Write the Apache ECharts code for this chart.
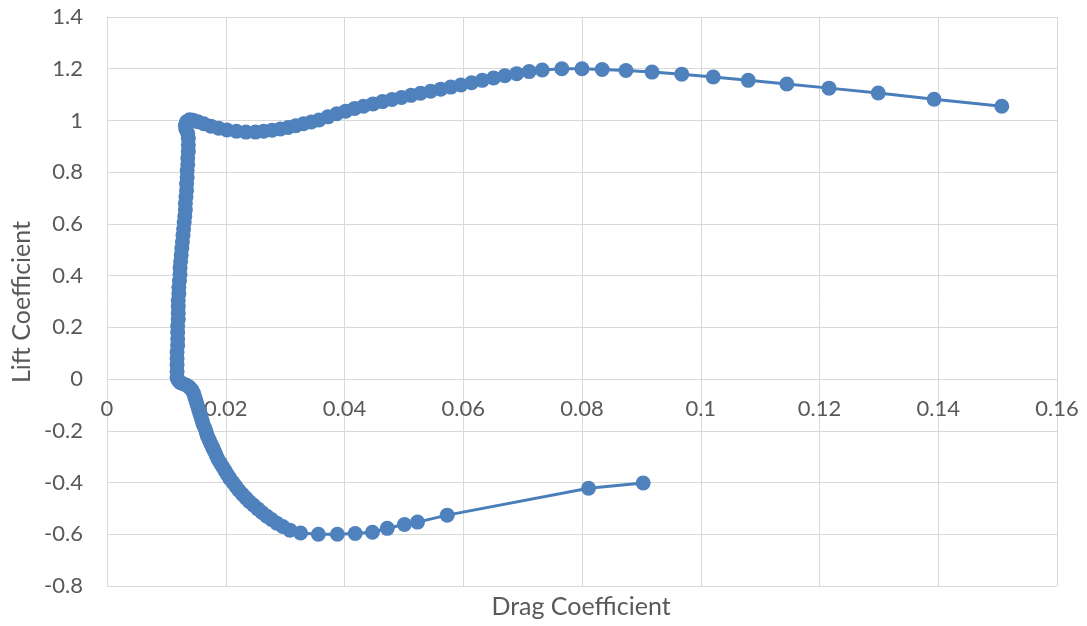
<!DOCTYPE html>
<html>
<head>
<meta charset="utf-8">
<script src="https://cdn.jsdelivr.net/npm/echarts@6/dist/echarts.min.js"></script>
<style>html,body{margin:0;padding:0;background:#fff;}#c{width:1087px;height:626px;}</style>
</head>
<body>
<div id="c"></div>
<script>
const xTickMin = 0, xTickMax = 0.16, xTickStep = 0.02;
const yTickMin = -0.8, yTickMax = 1.4, yTickStep = 0.2;
const xAxisTitle = "Drag Coefficient";
const yAxisTitle = "Lift Coefficient";

const dragCoefficient = [
  0.0903,0.0811,0.0573,0.0523,0.0501,0.0472,0.0447,0.0418,0.0388,0.0356,0.0326,
  0.0308,0.0296,0.0286,0.0277,0.0269,0.0261,0.0254,0.0247,0.0240,0.0234,0.0228,0.0222,0.0217,0.0212,0.0207,0.0203,0.0199,0.0195,0.0191,0.0187,0.0184,0.0181,0.0178,0.0175,0.0172,0.0169,0.0167,0.0165,0.0162,0.0160,0.0158,0.0156,0.0154,0.0152,0.0150,0.0148,0.0146,0.0143,0.0139,0.0134,0.0128,0.0123,0.0120,
  0.0118,0.0118,0.0118,0.0118,0.0118,0.0119,0.0119,0.0119,0.0119,0.0120,0.0120,0.0120,0.0120,0.0121,0.0121,0.0122,0.0123,0.0123,0.0124,0.0125,0.0126,0.0127,0.0128,0.0129,0.0130,0.0131,0.0132,0.0132,0.0133,0.0134,0.0134,0.0135,0.0135,0.0136,0.0136,0.0137,0.0137,0.0137,0.0136,
  0.0133,0.0132,0.0134,0.0139,0.0145,0.0153,0.0163,0.0175,0.0188,0.0202,0.0218,0.0234,0.0250,0.0264,0.0278,0.0292,0.0305,0.0318,0.0331,0.0344,
  0.0357,0.0372,0.0387,0.0402,0.0417,0.0432,0.0448,0.0464,0.0480,0.0496,0.0512,0.0528,0.0545,0.0562,0.0579,0.0596,0.0614,0.0632,0.0651,0.0670,0.0690,0.0711,0.0733,
  0.0766,0.0800,0.0834,0.0874,0.0918,0.0968,0.1021,0.1080,0.1145,0.1216,0.1299,0.1393,0.1507
];
const liftCoefficient = [
  -0.402,-0.422,-0.526,-0.553,-0.562,-0.577,-0.592,-0.597,-0.600,-0.600,-0.595,
  -0.584,-0.570,-0.557,-0.543,-0.530,-0.516,-0.502,-0.488,-0.474,-0.460,-0.445,-0.430,-0.415,-0.400,-0.385,-0.370,-0.355,-0.340,-0.325,-0.310,-0.295,-0.280,-0.265,-0.250,-0.235,-0.220,-0.205,-0.190,-0.175,-0.160,-0.145,-0.130,-0.115,-0.100,-0.085,-0.070,-0.055,-0.042,-0.032,-0.024,-0.018,-0.013,-0.005,
  0.005,0.030,0.055,0.080,0.105,0.130,0.155,0.180,0.205,0.230,0.255,0.280,0.305,0.330,0.355,0.380,0.405,0.430,0.455,0.480,0.505,0.530,0.555,0.580,0.605,0.630,0.655,0.680,0.705,0.730,0.755,0.780,0.805,0.830,0.855,0.880,0.905,0.930,0.950,
  0.965,0.980,0.995,1.003,1.001,0.995,0.987,0.978,0.970,0.963,0.958,0.955,0.955,0.958,0.962,0.967,0.973,0.980,0.987,0.994,
  1.002,1.014,1.026,1.036,1.046,1.055,1.064,1.073,1.081,1.089,1.097,1.105,1.113,1.121,1.129,1.137,1.146,1.155,1.164,1.173,1.181,1.189,1.195,
  1.200,1.200,1.197,1.193,1.187,1.179,1.168,1.155,1.141,1.125,1.106,1.082,1.055
];

const points = dragCoefficient.map((d, i) => [d, liftCoefficient[i]]);
const FONT = "Lato, 'Open Sans', sans-serif";
const GRID_TOP = 17, GRID_BOTTOM = 40, CHART_H = 626;
const plotH = CHART_H - GRID_TOP - GRID_BOTTOM;
// distance from bottom of plot to the y = 0 line (axis crosses at zero)
const zeroOffset = plotH * (0 - yTickMin) / (yTickMax - yTickMin);

const chart = echarts.init(document.getElementById('c'), null, {renderer: 'canvas'});
chart.setOption({
  animation: false,
  backgroundColor: '#ffffff',
  grid: {left: 107, right: 30, top: GRID_TOP, bottom: GRID_BOTTOM, containLabel: false},
  xAxis: {
    type: 'value', min: xTickMin, max: xTickMax, interval: xTickStep,
    offset: -zeroOffset,
    axisLine: {show: true, onZero: false, lineStyle: {color: '#d9d9d9', width: 1}},
    axisTick: {show: false},
    axisLabel: {color: '#595959', fontSize: 22, fontFamily: FONT, margin: 19},
    splitLine: {show: true, lineStyle: {color: '#d9d9d9', width: 1}}
  },
  yAxis: {
    type: 'value', min: yTickMin, max: yTickMax, interval: yTickStep,
    axisLine: {show: true, onZero: false, lineStyle: {color: '#d9d9d9', width: 1}},
    axisTick: {show: false},
    axisLabel: {color: '#595959', fontSize: 22, fontFamily: FONT, margin: 24},
    splitLine: {show: true, lineStyle: {color: '#d9d9d9', width: 1}}
  },
  graphic: [
    {type: 'text', x: 581, y: 607, style: {text: xAxisTitle, fill: '#595959', font: '25px ' + FONT, textAlign: 'center', textVerticalAlign: 'middle'}},
    {type: 'text', x: 22, y: 302, rotation: Math.PI / 2, style: {text: yAxisTitle, fill: '#595959', font: '25px ' + FONT, textAlign: 'center', textVerticalAlign: 'middle'}}
  ],
  series: [{
    type: 'line',
    data: points,
    showSymbol: true, showAllSymbol: true,
    symbol: 'circle', symbolSize: 15,
    smooth: false,
    lineStyle: {color: '#4a7ebb', width: 3},
    itemStyle: {color: '#4f81bd', borderWidth: 0}
  }]
});
</script>
</body>
</html>
